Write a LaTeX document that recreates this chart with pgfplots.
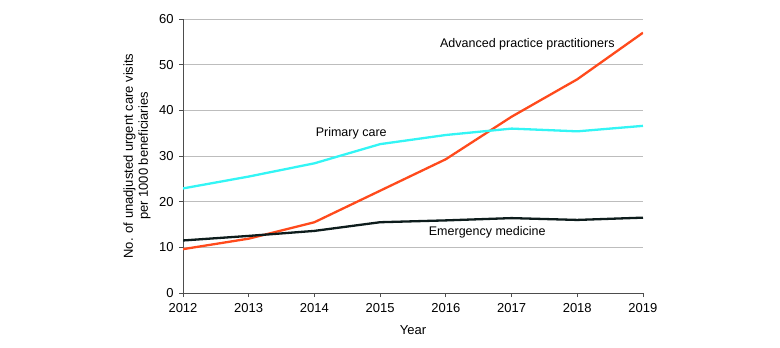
\documentclass[border=0pt]{standalone}
\usepackage{fontspec}
\setmainfont{Liberation Sans}
\usepackage{pgfplots}
\pgfplotsset{compat=1.18}
\definecolor{appred}{HTML}{FF4A1C}
\definecolor{pccyan}{HTML}{33F5F5}
\definecolor{emblack}{HTML}{0D1C1C}
\definecolor{gridgray}{HTML}{BDBDBD}
\definecolor{axisgray}{HTML}{4D4D4D}
\begin{document}
\fontsize{12.5bp}{15bp}\selectfont
\begin{tikzpicture}
\useasboundingbox (0,0) rectangle (780bp,348bp);
\begin{axis}[
  at={(183bp,55bp)}, anchor=south west,
  scale only axis, width=460bp, height=274bp,
  xmin=2012, xmax=2019, ymin=0, ymax=60,
  xtick={2012,...,2019}, ytick={0,10,...,60},
  axis lines*=left,
  axis line style={axisgray, line width=0.8bp},
  tick style={axisgray, line width=0.8bp},
  tick align=outside, major tick length=4bp,
  ymajorgrids, grid style={gridgray, line width=0.8bp},
  /pgf/number format/1000 sep={},
  /pgf/number format/assume math mode=true,
  tick label style={font=\fontsize{13bp}{15bp}\selectfont},
  label style={font=\fontsize{13bp}{15bp}\selectfont},
  xticklabel style={yshift=-2bp},
  yticklabel style={xshift=-1bp},
  xlabel=Year,
  xlabel style={yshift=-4bp},
  ylabel={No. of unadjusted urgent care visits\\per 1000 beneficiaries},
  ylabel style={align=center, yshift=0bp},
  line join=round,
]
% Advanced practice practitioners
\addplot[appred, line width=2.3bp] coordinates {
  (2012,9.6) (2013,11.9) (2014,15.5) (2015,22.4)
  (2016,29.3) (2017,38.6) (2018,46.8) (2019,57.0)};
% Primary care
\addplot[pccyan, line width=2.3bp] coordinates {
  (2012,22.9) (2013,25.5) (2014,28.4) (2015,32.6)
  (2016,34.6) (2017,36.0) (2018,35.4) (2019,36.6)};
% Emergency medicine
\addplot[emblack, line width=2.3bp] coordinates {
  (2012,11.5) (2013,12.5) (2014,13.6) (2015,15.5)
  (2016,15.9) (2017,16.4) (2018,16.0) (2019,16.5)};
\node at (axis cs:2017.24,54.5) {Advanced practice practitioners};
\node at (axis cs:2014.56,35.0) {Primary care};
\node at (axis cs:2016.63,13.3) {Emergency medicine};
\end{axis}
\end{tikzpicture}
\end{document}
